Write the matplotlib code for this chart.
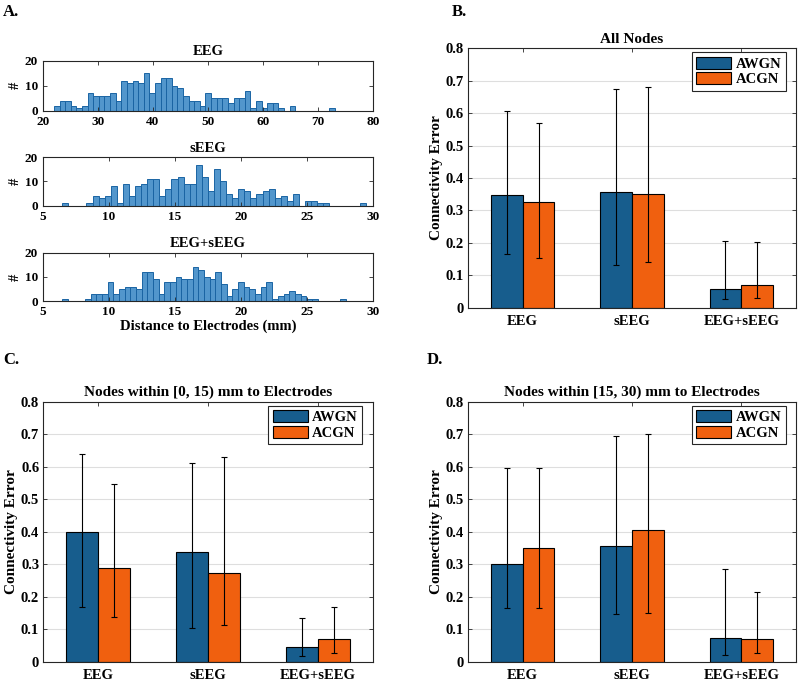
import numpy as np
import matplotlib
matplotlib.use("Agg")
import matplotlib.pyplot as plt

plt.rcParams['font.family'] = ['Liberation Serif', 'DejaVu Serif']
plt.rcParams['font.weight'] = 'bold'
plt.rcParams['axes.labelweight'] = 'bold'
plt.rcParams['axes.titleweight'] = 'bold'

# ---------------- Histogram data (counts per bin, 50 bins) ----------------
eeg_range = (22.0, 73.0)
eeg_counts = [2, 4, 4, 2, 1, 2, 7, 6, 6, 6, 7, 4, 12, 11, 12, 11, 15, 7, 11, 13,
              13, 10, 9, 6, 4, 4, 2, 7, 5, 5, 5, 3, 5, 5, 8, 1, 4, 1, 3, 3,
              1, 0, 2, 0, 0, 0, 0, 0, 0, 1]

seeg_range = (6.45, 29.45)
seeg_counts = [1, 0, 0, 0, 1, 4, 3, 4, 8, 1, 9, 4, 8, 9, 11, 11, 4, 7, 11, 12,
               9, 9, 17, 12, 6, 15, 10, 5, 3, 7, 6, 3, 5, 6, 7, 3, 4, 2, 5, 0,
               2, 2, 1, 1, 0, 0, 0, 0, 0, 1]

both_range = (6.45, 27.95)
both_counts = [1, 0, 0, 0, 1, 3, 3, 3, 8, 3, 5, 6, 6, 5, 12, 12, 9, 3, 8, 8,
               10, 9, 9, 14, 13, 10, 9, 12, 7, 2, 5, 8, 6, 5, 3, 6, 8, 1, 2, 3,
               4, 3, 2, 1, 1, 0, 0, 0, 0, 1]

hist_titles = ['EEG', 'sEEG', 'EEG+sEEG']
hist_xticks = [[20, 30, 40, 50, 60, 70, 80], [5, 10, 15, 20, 25, 30], [5, 10, 15, 20, 25, 30]]

# ---------------- Bar chart data ----------------
categories = ['EEG', 'sEEG', 'EEG+sEEG']
series = ['AWGN', 'ACGN']

all_awgn = [0.348, 0.356, 0.058]
all_awgn_lo = [0.166, 0.132, 0.027]
all_awgn_hi = [0.608, 0.674, 0.206]
all_acgn = [0.327, 0.351, 0.069]
all_acgn_lo = [0.154, 0.140, 0.031]
all_acgn_hi = [0.569, 0.682, 0.203]

near_awgn = [0.400, 0.338, 0.046]
near_awgn_lo = [0.169, 0.103, 0.018]
near_awgn_hi = [0.638, 0.610, 0.135]
near_acgn = [0.287, 0.273, 0.070]
near_acgn_lo = [0.138, 0.113, 0.026]
near_acgn_hi = [0.546, 0.629, 0.169]

far_awgn = [0.300, 0.357, 0.072]
far_awgn_lo = [0.165, 0.147, 0.022]
far_awgn_hi = [0.595, 0.695, 0.285]
far_acgn = [0.350, 0.405, 0.070]
far_acgn_lo = [0.165, 0.150, 0.028]
far_acgn_hi = [0.595, 0.702, 0.213]

W, H = 800, 680
fig = plt.figure(figsize=(8, 6.8), dpi=100)

def ax_at(x0, y0, x1, y1):
    return fig.add_axes([x0 / W, 1 - y1 / H, (x1 - x0) / W, (y1 - y0) / H])

SPINE = '#262626'

def style_axes(ax, fs=10):
    for s in ax.spines.values():
        s.set_color(SPINE)
        s.set_linewidth(0.8)
    ax.tick_params(direction='in', top=True, right=True, length=3,
                   width=0.6, colors=SPINE, labelsize=fs, labelcolor='black')
    for lab in ax.get_xticklabels() + ax.get_yticklabels():
        lab.set_fontweight('bold')

# ---------------- Histograms ----------------
hist_boxes = [(43, 60.7, 373, 110.7), (43, 157.3, 373, 205.7), (43, 252.7, 373, 301)]
hist_data = [(eeg_range, eeg_counts), (seeg_range, seeg_counts), (both_range, both_counts)]
for i, ((lo, hi), counts) in enumerate(hist_data):
    ax = ax_at(*hist_boxes[i])
    edges = np.linspace(lo, hi, len(counts) + 1)
    ax.bar(edges[:-1], counts, width=np.diff(edges), align='edge',
           color='#5296cc', edgecolor='#1a64a3', linewidth=0.7)
    ax.set_xlim(hist_xticks[i][0], hist_xticks[i][-1])
    ax.set_ylim(0, 20)
    ax.set_xticks(hist_xticks[i])
    ax.set_yticks([0, 10, 20])
    ax.set_title(hist_titles[i], fontsize=10.5, fontweight='bold', pad=4)
    ax.set_ylabel('#', fontsize=10.5, fontweight='bold', labelpad=2)
    style_axes(ax, fs=9.5)
    if i == 2:
        ax.set_xlabel('Distance to Electrodes (mm)', fontsize=10.5, fontweight='bold', labelpad=1)

# ---------------- Bar charts ----------------
C_AWGN = '#175d8d'
C_ACGN = '#f0600f'

def bar_panel(box, title, awgn, awgn_lo, awgn_hi, acgn, acgn_lo, acgn_hi):
    ax = ax_at(*box)
    x = np.arange(1, len(categories) + 1)
    bw = 0.29
    awgn = np.array(awgn); acgn = np.array(acgn)
    err_aw = [awgn - np.array(awgn_lo), np.array(awgn_hi) - awgn]
    err_ac = [acgn - np.array(acgn_lo), np.array(acgn_hi) - acgn]
    ax.set_axisbelow(True)
    ax.grid(axis='y', color='#dedede', linewidth=0.8)
    ax.bar(x - bw / 2, awgn, bw, color=C_AWGN, edgecolor='black', linewidth=0.8, label=series[0])
    ax.bar(x + bw / 2, acgn, bw, color=C_ACGN, edgecolor='black', linewidth=0.8, label=series[1])
    ax.errorbar(x - bw / 2, awgn, yerr=err_aw, fmt='none', ecolor='black',
                elinewidth=0.8, capsize=2, capthick=0.8)
    ax.errorbar(x + bw / 2, acgn, yerr=err_ac, fmt='none', ecolor='black',
                elinewidth=0.8, capsize=2, capthick=0.8)
    ax.set_xlim(0.5, 3.5)
    ax.set_ylim(0, 0.8)
    ax.set_xticks(x)
    ax.set_xticklabels(categories)
    ax.set_yticks(np.arange(0, 0.81, 0.1))
    ax.set_yticklabels(['0'] + ['%.1f' % v for v in np.arange(0.1, 0.81, 0.1)])
    ax.set_title(title, fontsize=11, fontweight='bold', pad=4)
    ax.set_ylabel('Connectivity Error', fontsize=11, fontweight='bold', labelpad=2)
    style_axes(ax, fs=10.5)
    ax.tick_params(axis='x', pad=5)
    ax.tick_params(axis='y', pad=3)
    leg = ax.legend(loc='upper right', bbox_to_anchor=(0.968, 0.985),
                    prop={'weight': 'bold', 'size': 10.5},
                    handlelength=2.4, handleheight=0.9, borderpad=0.3, labelspacing=0.1,
                    handletextpad=0.3, fancybox=False, framealpha=1, borderaxespad=0)
    leg.get_frame().set_edgecolor(SPINE)
    leg.get_frame().set_linewidth(0.8)
    return ax

bar_panel((468, 48.3, 796, 307.7), 'All Nodes',
          all_awgn, all_awgn_lo, all_awgn_hi, all_acgn, all_acgn_lo, all_acgn_hi)
bar_panel((43.3, 401.7, 372.7, 661.7), 'Nodes within [0, 15) mm to Electrodes',
          near_awgn, near_awgn_lo, near_awgn_hi, near_acgn, near_acgn_lo, near_acgn_hi)
bar_panel((468, 401.7, 796, 661.7), 'Nodes within [15, 30) mm to Electrodes',
          far_awgn, far_awgn_lo, far_awgn_hi, far_acgn, far_acgn_lo, far_acgn_hi)

# ---------------- Panel labels ----------------
for lab, (px, py) in zip(['A.', 'B.', 'C.', 'D.'], [(3, 12), (452, 12), (3, 360), (427, 360)]):
    fig.text(px / W, 1 - py / H, lab, fontsize=12, fontweight='bold', va='center', ha='left')

fig.savefig('out.png', dpi=100)
